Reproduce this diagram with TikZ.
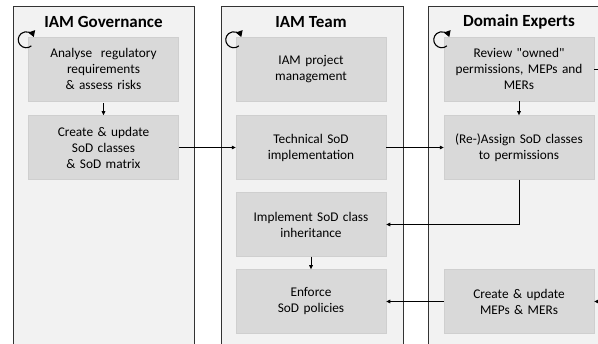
\documentclass[tikz,border=0pt]{standalone}
\usepackage{fontspec}
\setmainfont{Carlito}
\usetikzlibrary{arrows.meta}
\definecolor{lanec}{HTML}{F2F2F2}
\definecolor{boxc}{HTML}{D9D9D9}
\definecolor{boxl}{HTML}{CFCFCF}
\definecolor{edge}{HTML}{333333}
\newcommand\fsB{\fontsize{13.3}{16}\selectfont}
\newcommand\fsH{\fontsize{17}{19}\selectfont}

\begin{document}
\begin{tikzpicture}[x=1pt,y=-1pt,
  lane/.style={fill=lanec,draw=edge,line width=0.9pt},
  lanehead/.style={font=\fsH\bfseries,inner sep=0},
  task/.style={fill=boxc,draw=boxl,line width=0.5pt,minimum width=150pt,minimum height=64pt,
    text width=148pt,align=center,font=\fsB,inner sep=0},
  flow/.style={black,line width=0.6pt,-{Triangle[length=4pt,width=3.6pt]}},
  redo/.style={black,line width=1.1pt,-{Triangle[length=6pt,width=7pt]}}]
\useasboundingbox (0,0) rectangle (598,344);
\clip (0,0) rectangle (598,344);
\def\xa{103.5}\def\xb{311}\def\xc{519}   % lane centres
\def\ra{69}\def\rb{147.5}\def\rc{224.5}\def\rd{301.5} % row centres
% ============ swimlanes ============
\draw[lane] (13,6) rectangle (194,360);
\draw[lane] (221,6) rectangle (403,360);
\draw[lane] (428,6) rectangle (640,360);
\node[lanehead] (govT)  at (\xa,22) {IAM Governance};
\node[lanehead] (teamT) at (\xb,22) {IAM Team};
\node[lanehead] (domT)  at (\xc,22) {Domain Experts};
% ============ activities ============
\node[task] (gov1) at (\xa,\ra) {Analyse\ \ regulatory\\requirements\\\& assess risks};
\node[task] (gov2) at (\xa,\rb) {Create \& update\\SoD classes\\\& SoD matrix};
\node[task] (team1) at (\xb,\ra) {IAM project\\management};
\node[task] (team2) at (\xb,\rb) {Technical SoD\\implementation};
\node[task] (team3) at (\xb,\rc) {Implement SoD class\\inheritance};
\node[task] (team4) at (\xb,\rd) {Enforce\\SoD policies};
\node[task] (dom1) at (\xc,\ra) {Review \textquotedbl owned\textquotedbl\\permissions, MEPs and\\MERs};
\node[task] (dom2) at (\xc,\rb) {(Re-)Assign SoD classes\\to permissions};
\node[task] (dom4) at (\xc,\rd) {Create \& update\\MEPs \& MERs};
% recurring activities (y axis points down)
\foreach \n in {gov1,team1,dom1}
  \draw[redo] ([shift={(-2,3)}]\n.north west) ++(50:8) arc[start angle=50,end angle=340,radius=8];
% ============ flows ============
\draw[flow,shorten <=2pt] (gov1) -- (gov2);
\draw[flow] (gov2) -- (team2);
\draw[flow] (team2) -- (dom2);
\draw[flow] (dom1) -- (dom2);
\draw[flow] (dom2.south) |- (team3.east);
\draw[flow] (team3) -- (team4);
\draw[flow] (dom4) -- (team4);
\coordinate (backTop) at (625,\ra);
\coordinate (backBot) at (625,\rd);
\draw[flow] (dom1.east) -- (backTop) -- (backBot) -- (dom4.east);
\end{tikzpicture}
\end{document}
